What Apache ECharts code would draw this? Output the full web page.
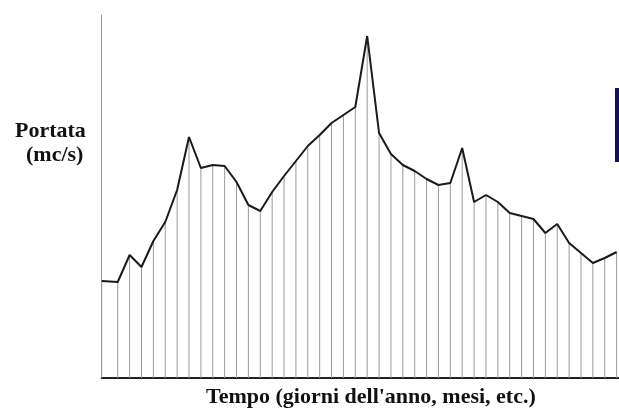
<!DOCTYPE html>
<html>
<head>
<meta charset="utf-8">
<script src="https://cdn.jsdelivr.net/npm/echarts@6/dist/echarts.min.js"></script>
<style>html,body{margin:0;padding:0;background:#fff}#c{width:619px;height:409px}</style>
</head>
<body>
<div id="c"></div>
<script>
// Time positions (days) of the sampled flows
const days = [0, 1.35, 2.35, 3.35, 4.35, 5.35, 6.35, 7.35, 8.35, 9.35, 10.35,
  11.35, 12.35, 13.35, 14.35, 15.35, 16.35, 17.35, 18.35, 19.35, 20.35,
  21.35, 22.35, 23.35, 24.35, 25.35, 26.35, 27.35, 28.35, 29.35, 30.35,
  31.35, 32.35, 33.35, 34.35, 35.35, 36.35, 37.35, 38.35, 39.35, 40.35,
  41.35, 42.35, 43.35];
// Flow (portata) values
const flow = [97, 96, 123, 111, 137, 156, 188, 241, 210, 213, 212,
  196, 173, 167, 186, 202, 217, 232, 243, 255, 263,
  271, 342, 245, 224, 213, 207, 199, 193, 195, 230,
  176, 183, 176, 165, 162, 159, 145, 154, 135, 125,
  115, 120, 126];
const yLabel = ['Portata', '(mc/s)'];
const xLabel = "Tempo (giorni dell'anno, mesi, etc.)";

const pts = days.map((d, i) => [d, flow[i]]);
const chart = echarts.init(document.getElementById('c'), null, {renderer: 'canvas'});
chart.setOption({
  animation: false,
  backgroundColor: '#fff',
  grid: {left: 101.7, right: 0, top: 15, bottom: 31},
  xAxis: {
    type: 'value', min: 0, max: 43.55,
    axisLine: {show: true, lineStyle: {color: '#222', width: 2}},
    axisTick: {show: false}, axisLabel: {show: false}, splitLine: {show: false}
  },
  yAxis: {
    type: 'value', min: 0, max: 363,
    axisLine: {show: true, lineStyle: {color: '#999', width: 1}},
    axisTick: {show: false}, axisLabel: {show: false}, splitLine: {show: false}
  },
  series: [
    {type: 'bar', data: pts, barWidth: 1, clip: false,
     itemStyle: {color: '#9a9a9a'}, z: 2},
    {type: 'line', data: pts, symbol: 'none', clip: false,
     lineStyle: {color: '#1a1a1a', width: 2}, z: 3}
  ],
  graphic: [
    {type: 'text', left: 15, top: 120, z: 10,
     style: {text: yLabel[0], font: 'bold 22px "Liberation Serif", serif', fill: '#111'}},
    {type: 'text', left: 26, top: 144, z: 10,
     style: {text: yLabel[1], font: 'bold 22px "Liberation Serif", serif', fill: '#111'}},
    {type: 'text', left: 206, top: 386, z: 10,
     style: {text: xLabel, font: 'bold 22px "Liberation Serif", serif', fill: '#111'}},
    {type: 'rect', shape: {x: 615, y: 88, width: 4, height: 74},
     style: {fill: '#101060'}, z: 10}
  ]
});
</script>
</body>
</html>
